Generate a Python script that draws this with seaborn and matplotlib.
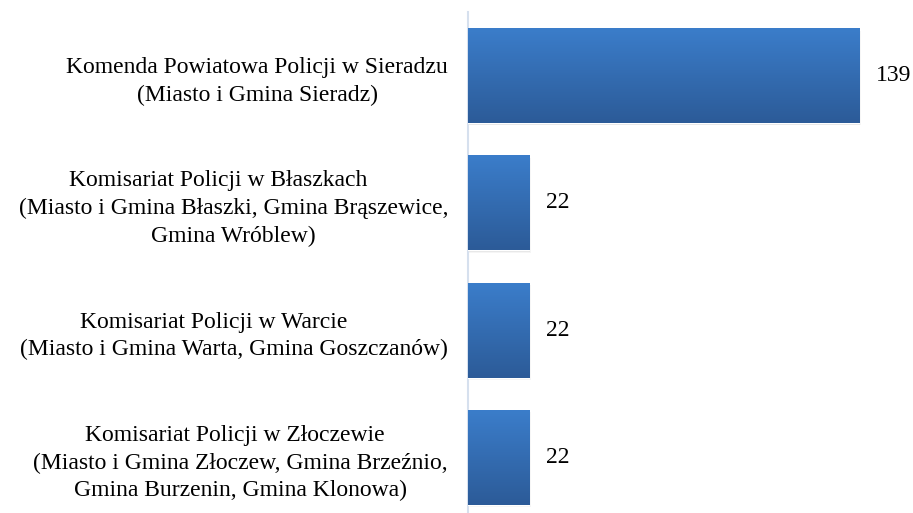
import numpy as np
import pandas as pd
import matplotlib
matplotlib.use("Agg")
import matplotlib.pyplot as plt
from matplotlib.patches import Rectangle
from matplotlib.colors import LinearSegmentedColormap
import seaborn as sns

sns.set_style("white")
plt.rcParams['font.family'] = ['Liberation Serif', 'DejaVu Serif']

# data
labels = [
    "Komenda Powiatowa Policji w Sieradzu\n(Miasto i Gmina Sieradz)",
    "Komisariat Policji w Błaszkach     \n(Miasto i Gmina Błaszki, Gmina Brąszewice,\nGmina Wróblew)",
    "Komisariat Policji w Warcie       \n(Miasto i Gmina Warta, Gmina Goszczanów)",
    "Komisariat Policji w Złoczewie  \n(Miasto i Gmina Złoczew, Gmina Brzeźnio,\nGmina Burzenin, Gmina Klonowa)",
]
values = [139, 22, 22, 22]

df = pd.DataFrame({"unit": labels, "count": values})

top_col = "#3b7dca"
bot_col = "#2c5b98"
grad = LinearSegmentedColormap.from_list("bar", [top_col, bot_col])

fig = plt.figure(figsize=(9.13, 5.13), dpi=100)
ax = fig.add_axes([467.5 / 913, 0, 1 - 467.5 / 913, 1 - 12 / 513])

sns.barplot(data=df, x="count", y="unit", color=top_col, width=0.745,
            orient="h", ax=ax, zorder=3)

# gradient fill + soft shadow
for p in ax.patches:
    x0, y0 = p.get_x(), p.get_y()
    w, h = p.get_width(), p.get_height()
    for k, a in enumerate([0.10, 0.07, 0.04]):
        off = 0.4 + 0.6 * k
        ax.add_patch(Rectangle((x0 + off * 0.35, y0 + off * 0.012), w, h,
                               facecolor="black", alpha=a, edgecolor="none",
                               zorder=2))
    p.set_facecolor("none")
    img = ax.imshow(np.linspace(0, 1, 100).reshape(-1, 1), cmap=grad,
                    aspect="auto", extent=(x0, x0 + w, y0 + h, y0),
                    zorder=3)
    img.set_clip_path(p)

ax.set_xlim(0, 158.2)
ax.set_ylim(3.437, -0.5)

for i, v in enumerate(values):
    ax.text(v + 6, i, str(v), va="center", ha="left", fontsize=17,
            color="black")

ax.set_xlabel("")
ax.set_ylabel("")
ax.set_xticks([])
ax.tick_params(axis="y", length=0, pad=14, labelcolor="black")
ax.set_yticks(range(len(labels)))
ax.set_yticklabels(labels, fontsize=17, ha="right", multialignment="center",
                   linespacing=1.4)
for s in ["top", "right", "bottom"]:
    ax.spines[s].set_visible(False)
ax.spines["left"].set_color("#d6e0ee")
ax.spines["left"].set_linewidth(1.5)

fig.savefig("out.png", dpi=100)
